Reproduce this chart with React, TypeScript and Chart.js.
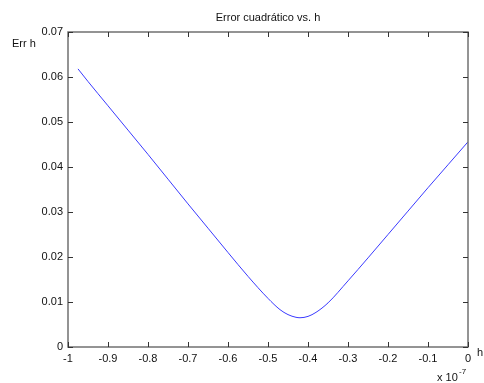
import React, { useEffect, useRef } from "react";
import { Chart, registerables } from "chart.js";

Chart.register(...registerables);

const hValues = [-0.975, -0.95, -0.9, -0.85, -0.8, -0.75, -0.7, -0.65, -0.6, -0.55, -0.5, -0.47, -0.45, -0.43, -0.42, -0.4, -0.38, -0.35, -0.3, -0.25, -0.2, -0.15, -0.1, -0.05, 0];
const errValues = [0.0618, 0.059, 0.0536, 0.0482, 0.0428, 0.0373, 0.0318, 0.0264, 0.021, 0.0157, 0.0108, 0.0083, 0.0072, 0.0066, 0.0065, 0.0068, 0.0077, 0.0098, 0.0147, 0.0198, 0.025, 0.0302, 0.0354, 0.0405, 0.0456];
const xTicks = [-1, -0.9, -0.8, -0.7, -0.6, -0.5, -0.4, -0.3, -0.2, -0.1, 0];
const yTicks = [0, 0.01, 0.02, 0.03, 0.04, 0.05, 0.06, 0.07];
const title = "Error cuadrático vs. h";
const yLabel = "Err h";
const xLabel = "h";

const FONT = "Liberation Sans, Arial, sans-serif";

const decorPlugin = {
  id: "decor",
  afterDraw(chart: any) {
    const { ctx, chartArea } = chart;
    const { left, right, top, bottom } = chartArea;
    const xs = chart.scales.x;
    const ys = chart.scales.y;
    ctx.save();
    ctx.strokeStyle = "#707070";
    ctx.lineWidth = 1.5;
    ctx.strokeRect(left, top, right - left, bottom - top);
    ctx.strokeStyle = "#333";
    ctx.lineWidth = 1;
    const tl = 5;
    xTicks.forEach((v) => {
      const px = Math.round(xs.getPixelForValue(v)) + 0.5;
      ctx.beginPath();
      ctx.moveTo(px, bottom);
      ctx.lineTo(px, bottom - tl);
      ctx.moveTo(px, top);
      ctx.lineTo(px, top + tl);
      ctx.stroke();
    });
    yTicks.forEach((v) => {
      const py = Math.round(ys.getPixelForValue(v)) + 0.5;
      ctx.beginPath();
      ctx.moveTo(left, py);
      ctx.lineTo(left + tl, py);
      ctx.moveTo(right, py);
      ctx.lineTo(right - tl, py);
      ctx.stroke();
    });
    ctx.fillStyle = "#111";
    ctx.font = `11px ${FONT}`;
    ctx.textBaseline = "middle";
    ctx.textAlign = "center";
    ctx.fillText(title, (left + right) / 2, 18);
    ctx.textAlign = "left";
    ctx.fillText(yLabel, 12, 44);
    ctx.fillText(xLabel, 477, 353);
    ctx.fillText("x 10", 437, 378);
    ctx.font = `8px ${FONT}`;
    ctx.fillText("-7", 459, 372);
    ctx.restore();
  },
};

export default function App() {
  const ref = useRef<HTMLCanvasElement>(null);
  useEffect(() => {
    document.body.style.margin = "0";
    document.body.style.background = "#fff";
    const chart = new Chart(ref.current!, {
      type: "line",
      data: {
        datasets: [
          {
            data: hValues.map((h, i) => ({ x: h, y: errValues[i] })),
            borderColor: "#3a3aff",
            borderWidth: 1,
            pointRadius: 0,
            cubicInterpolationMode: "monotone",
            fill: false,
          },
        ],
      },
      options: {
        animation: false,
        responsive: false,
        layout: { padding: { top: 32, right: 16, left: 0, bottom: 0 } },
        plugins: { legend: { display: false }, tooltip: { enabled: false }, title: { display: false } },
        scales: {
          x: {
            type: "linear",
            min: -1,
            max: 0,
            afterBuildTicks: (s: any) => {
              s.ticks = xTicks.map((v) => ({ value: v }));
            },
            afterFit: (s: any) => {
              s.height = 36;
            },
            grid: { display: false, drawTicks: false },
            border: { display: false },
            ticks: {
              color: "#111",
              font: { family: FONT, size: 11 },
              padding: 5,
              maxRotation: 0,
              autoSkip: false,
              callback: (v: any) => String(Math.round(Number(v) * 10) / 10),
            },
          },
          y: {
            type: "linear",
            min: 0,
            max: 0.07,
            afterBuildTicks: (s: any) => {
              s.ticks = yTicks.map((v) => ({ value: v }));
            },
            afterFit: (s: any) => {
              s.width = 68;
            },
            grid: { display: false, drawTicks: false },
            border: { display: false },
            ticks: {
              color: "#111",
              font: { family: FONT, size: 11 },
              padding: 5,
              autoSkip: false,
              callback: (v: any) => (Number(v) === 0 ? "0" : Number(v).toFixed(2)),
            },
          },
        },
      },
      plugins: [decorPlugin],
    } as any);
    return () => chart.destroy();
  }, []);
  return (
    <div style={{ width: 484, height: 383 }}>
      <canvas ref={ref} width={484} height={383} style={{ display: "block" }} />
    </div>
  );
}
